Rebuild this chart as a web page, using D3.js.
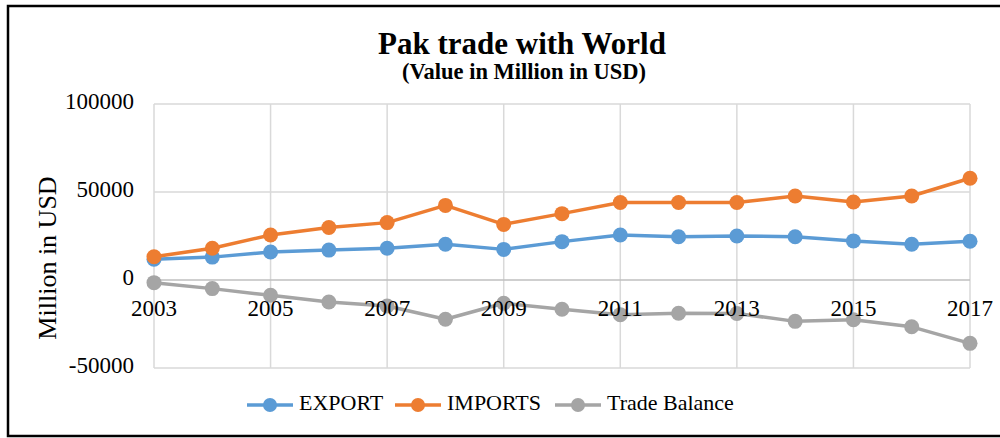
<!DOCTYPE html>
<html>
<head>
<meta charset="utf-8">
<script src="https://cdn.jsdelivr.net/npm/d3@7"></script>
<style>
  body { margin: 0; background: #fff; }
  svg text { font-family: "Liberation Serif", "Times New Roman", serif; fill: #000; }
  .grid line { stroke: #d9d9d9; stroke-width: 1.5; }
  .zero-line { stroke: #bfbfbf; stroke-width: 1.5; }
</style>
</head>
<body>
<div id="chart"></div>
<script>
// data
var years = [2003, 2004, 2005, 2006, 2007, 2008, 2009, 2010, 2011, 2012, 2013, 2014, 2015, 2016, 2017]
var exportVals = [11800, 13000, 15900, 17000, 18000, 20300, 17400, 21800, 25600, 24600, 25000, 24600, 22200, 20300, 22000]
var importVals = [13200, 18000, 25600, 29800, 32600, 42400, 31600, 37700, 44000, 44000, 44000, 47700, 44300, 47700, 57800]
var balanceVals = [-1500, -4900, -8700, -12500, -14800, -22300, -13200, -16600, -19700, -18900, -19000, -23500, -22600, -26600, -36000]
var yTicks = [-50000, 0, 50000, 100000]
var xTicks = [2003, 2005, 2007, 2009, 2011, 2013, 2015, 2017]

var seriesNames = ["EXPORT", "IMPORTS", "Trade Balance"]
var seriesColors = ["#5b9bd5", "#ed7d31", "#a5a5a5"]

var W = 1000, H = 438
var margin = { left: 154, right: 30, top: 104, bottom: 70 }

var svg = d3.select("#chart")
    .append("svg")
        .attr("width", W)
        .attr("height", H)

// outer frame
svg.append("rect")
    .attr("x", 8)
    .attr("y", 6)
    .attr("width", 1000)
    .attr("height", 430)
    .attr("fill", "none")
    .attr("stroke", "#000")
    .attr("stroke-width", 2.5)

var x = d3.scaleLinear()
    .domain([2003, 2017])
    .range([0, 816])

var y = d3.scaleLinear()
    .domain([-50000, 100000])
    .range([264, 0])

var g = svg.append("g")
    .attr("transform", "translate(" + margin.left + "," + margin.top + ")")

// gridlines
var grid = g.append("g").attr("class", "grid")

grid.selectAll(".hgrid")
    .data(yTicks.filter(d => d != 0))
    .enter()
    .append("line")
    .attr("x1", 0)
    .attr("x2", x(2017))
    .attr("y1", d => y(d))
    .attr("y2", d => y(d))

grid.selectAll(".vgrid")
    .data(xTicks)
    .enter()
    .append("line")
    .attr("x1", d => x(d))
    .attr("x2", d => x(d))
    .attr("y1", y(100000))
    .attr("y2", y(-50000))

g.append("line")
    .attr("class", "zero-line")
    .attr("x1", 0)
    .attr("x2", x(2017))
    .attr("y1", y(0))
    .attr("y2", y(0))

// y tick labels
g.selectAll(".ylab")
    .data(yTicks)
    .enter()
    .append("text")
    .attr("x", -20)
    .attr("y", d => y(d))
    .attr("text-anchor", "end")
    .attr("dominant-baseline", "middle")
    .attr("font-size", "23px")
    .text(d => d)

// series
var series = [exportVals, importVals, balanceVals]

var line = d3.line()
    .x((d, i) => x(years[i]))
    .y(d => y(d))

series.forEach(function(vals, k){
    var sg = g.append("g")
    sg.append("path")
        .datum(vals)
        .attr("d", line)
        .attr("fill", "none")
        .attr("stroke", seriesColors[k])
        .attr("stroke-width", 3.5)
        .attr("stroke-linejoin", "round")

    sg.selectAll("circle")
        .data(vals)
        .enter()
        .append("circle")
        .attr("cx", (d, i) => x(years[i]))
        .attr("cy", d => y(d))
        .attr("r", 7.5)
        .attr("fill", seriesColors[k])
})

// x tick labels sit over the chart, under the zero line
g.selectAll(".xlab")
    .data(xTicks)
    .enter()
    .append("text")
    .attr("x", d => x(d))
    .attr("y", y(0) + 36)
    .attr("text-anchor", "middle")
    .attr("font-size", "23px")
    .text(d => d)

// axis title
svg.append("text")
    .attr("transform", "translate(56,258) rotate(-90)")
    .attr("text-anchor", "middle")
    .attr("font-size", "26px")
    .text("Million in USD")

// titles
svg.append("text")
    .attr("x", 522)
    .attr("y", 54)
    .attr("text-anchor", "middle")
    .attr("font-size", "31px")
    .attr("font-weight", "bold")
    .text("Pak trade with World")

svg.append("text")
    .attr("x", 524)
    .attr("y", 79)
    .attr("text-anchor", "middle")
    .attr("font-size", "22.5px")
    .attr("font-weight", "bold")
    .text("(Value in Million in USD)")

// legend
var legendX = [247, 395, 555]
var legend = svg.append("g")
    .attr("transform", "translate(0,405)")

seriesNames.forEach(function(name, k){
    var lg = legend.append("g")
        .attr("transform", "translate(" + legendX[k] + ",0)")
    lg.append("line")
        .attr("x1", 0)
        .attr("x2", 46)
        .attr("y1", 0)
        .attr("y2", 0)
        .attr("stroke", seriesColors[k])
        .attr("stroke-width", 3.5)
    lg.append("circle")
        .attr("cx", 23)
        .attr("cy", 0)
        .attr("r", 7)
        .attr("fill", seriesColors[k])
    lg.append("text")
        .attr("x", 52)
        .attr("y", 0)
        .attr("dominant-baseline", "middle")
        .attr("font-size", "22px")
        .text(name)
})
</script>
</body>
</html>
